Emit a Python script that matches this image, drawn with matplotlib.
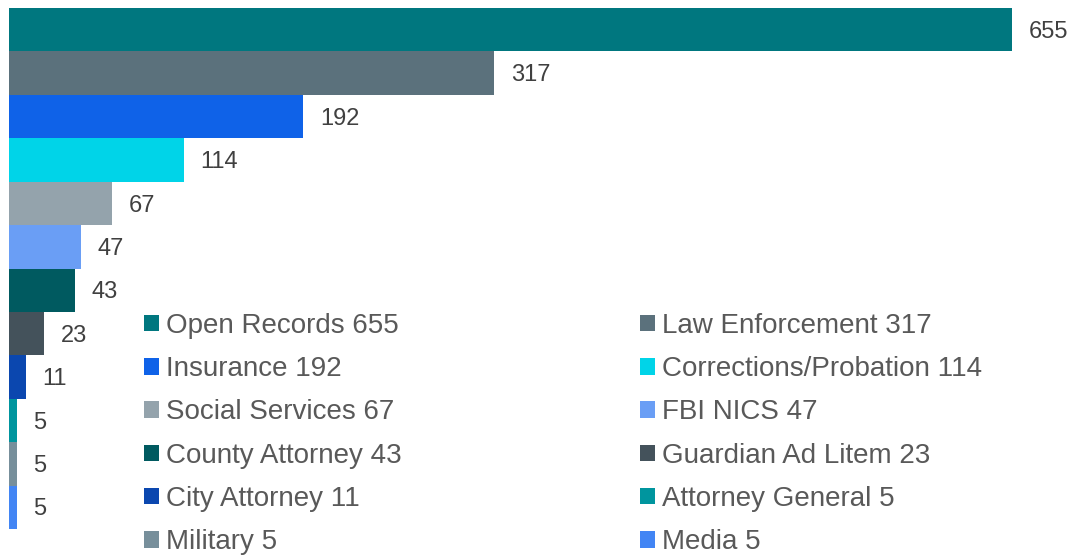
import matplotlib.pyplot as plt

# data
names = ['Open Records', 'Law Enforcement', 'Insurance', 'Corrections/Probation',
         'Social Services', 'FBI NICS', 'County Attorney', 'Guardian Ad Litem',
         'City Attorney', 'Attorney General', 'Military', 'Media']
values = [655, 317, 192, 114, 67, 47, 43, 23, 11, 5, 5, 5]
colors = ['#00777F', '#5B717C', '#0F62E8', '#00D4E8', '#94A3AC', '#6A9EF5',
          '#005A60', '#44525B', '#0B47AF', '#00959E', '#778F9B', '#4285F4']

plt.rcParams['font.family'] = ['Liberation Sans', 'DejaVu Sans']

fig = plt.figure(figsize=(10.7, 5.56), dpi=100)
ax = fig.add_axes([9 / 1070, 27 / 556, 1003 / 1070, 521 / 556])

ypos = list(range(len(values)))
bars = ax.barh(ypos, values, height=1.0, color=colors)

# value labels
for y, v in zip(ypos, values):
    ax.text(v + 11, y + 0.05, '%d' % v, ha='left', va='center', fontsize=17,
            color='#404040', clip_on=False)

ax.set_xlim(0, 655)
ax.set_ylim(len(values) - 0.5, -0.5)
ax.axis('off')

labels = ['%s %d' % (n, v) for n, v in zip(names, values)]
patches = list(bars.patches)

legend_kw = dict(frameon=False, fontsize=20, labelcolor='#595959',
                 handlelength=0.54, handleheight=0.54, handletextpad=0.25,
                 labelspacing=0.62, borderpad=0, borderaxespad=0)

# row-major legend in two columns
leg1 = fig.legend(patches[0::2], labels[0::2], loc='upper left',
                  bbox_to_anchor=(144 / 1070, 1 - 313 / 556), **legend_kw)
leg2 = fig.legend(patches[1::2], labels[1::2], loc='upper left',
                  bbox_to_anchor=(640 / 1070, 1 - 313 / 556), **legend_kw)

fig.savefig('out.png', dpi=100)
